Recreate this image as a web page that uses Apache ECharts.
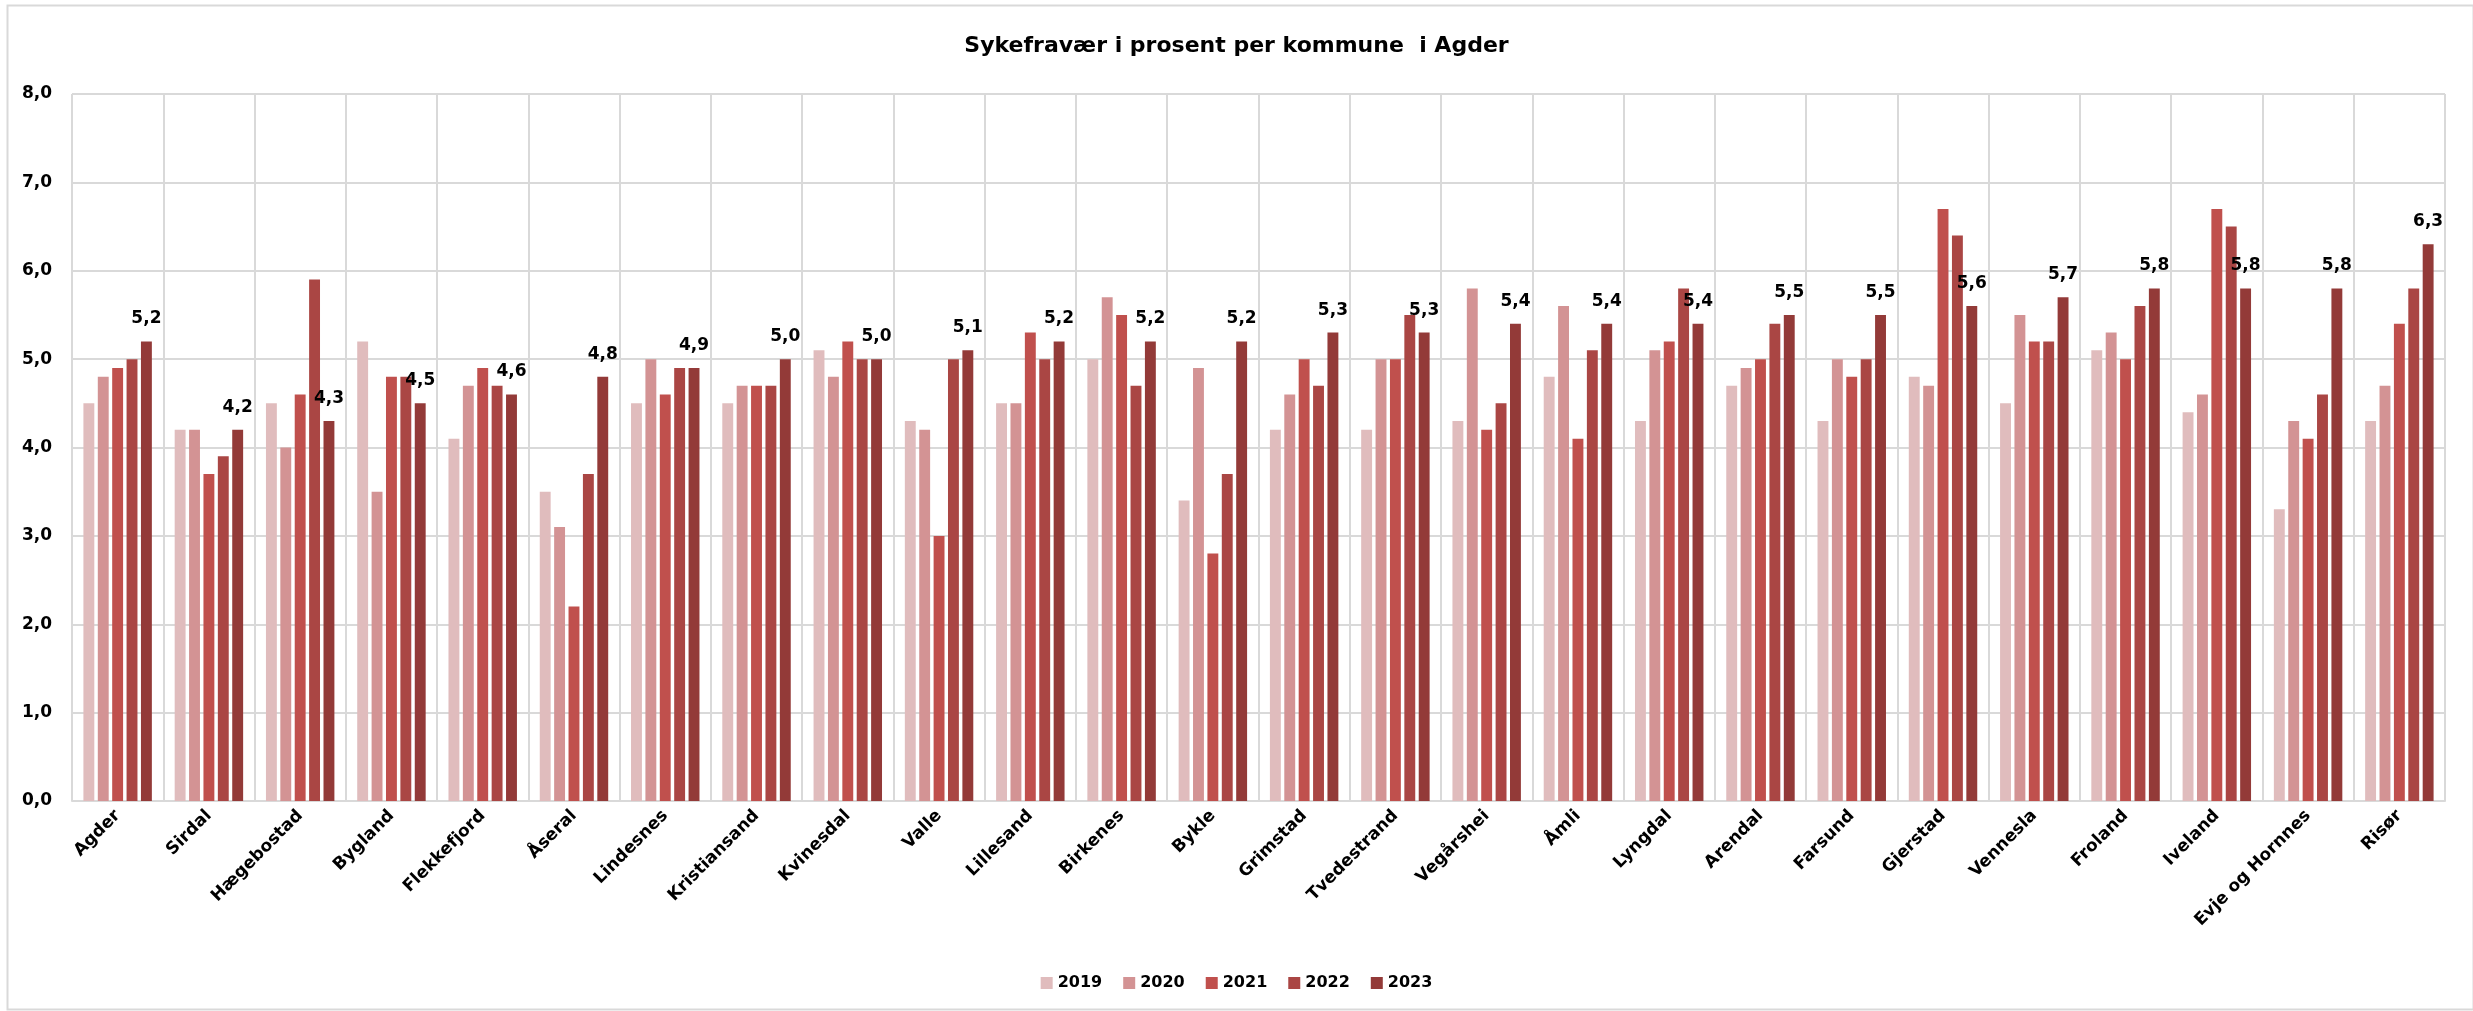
<!DOCTYPE html>
<html>
<head>
<meta charset="utf-8">
<script src="https://cdn.jsdelivr.net/npm/echarts@6/dist/echarts.min.js"></script>
<style>
html,body{margin:0;padding:0;background:#fff;}
#c{width:2473px;height:1011px;}
</style>
</head>
<body>
<div id="c"></div>
<script>
const categories = ["Agder","Sirdal","Hægebostad","Bygland","Flekkefjord","Åseral","Lindesnes","Kristiansand","Kvinesdal","Valle","Lillesand","Birkenes","Bykle","Grimstad","Tvedestrand","Vegårshei","Åmli","Lyngdal","Arendal","Farsund","Gjerstad","Vennesla","Froland","Iveland","Evje og Hornnes","Risør"];
const years = ["2019","2020","2021","2022","2023"];
const v2019 = [4.5,4.2,4.5,5.2,4.1,3.5,4.5,4.5,5.1,4.3,4.5,5.0,3.4,4.2,4.2,4.3,4.8,4.3,4.7,4.3,4.8,4.5,5.1,4.4,3.3,4.3];
const v2020 = [4.8,4.2,4.0,3.5,4.7,3.1,5.0,4.7,4.8,4.2,4.5,5.7,4.9,4.6,5.0,5.8,5.6,5.1,4.9,5.0,4.7,5.5,5.3,4.6,4.3,4.7];
const v2021 = [4.9,3.7,4.6,4.8,4.9,2.2,4.6,4.7,5.2,3.0,5.3,5.5,2.8,5.0,5.0,4.2,4.1,5.2,5.0,4.8,6.7,5.2,5.0,6.7,4.1,5.4];
const v2022 = [5.0,3.9,5.9,4.8,4.7,3.7,4.9,4.7,5.0,5.0,5.0,4.7,3.7,4.7,5.5,4.5,5.1,5.8,5.4,5.0,6.4,5.2,5.6,6.5,4.6,5.8];
const v2023 = [5.2,4.2,4.3,4.5,4.6,4.8,4.9,5.0,5.0,5.1,5.2,5.2,5.2,5.3,5.3,5.4,5.4,5.4,5.5,5.5,5.6,5.7,5.8,5.8,5.8,6.3];
const yTicks = [0,1,2,3,4,5,6,7,8];
const colors = ["#e0bcbd","#d39394","#c0504d","#aa4644","#933a38"];

const seriesData = [v2019, v2020, v2021, v2022, v2023];
const fmt = v => v.toFixed(1).replace('.', ',');
const FONT = "DejaVu Sans";

const chart = echarts.init(document.getElementById('c'), null, {renderer:'canvas'});
chart.setOption({
  animation:false,
  backgroundColor:'#ffffff',
  graphic:[{
    type:'rect', left:5, top:3, silent:true, z:-10,
    shape:{width:2466, height:1004},
    style:{fill:'none', stroke:'#d9d9d9', lineWidth:2}
  }],
  title:{
    text:'Sykefravær i prosent per kommune  i Agder',
    left:'center', top:30,
    textStyle:{fontFamily:FONT, fontWeight:'bold', fontSize:22, color:'#000'}
  },
  legend:{
    data:years, top:970, left:'center',
    itemWidth:12, itemHeight:12, itemGap:21,
    icon:'rect',
    textStyle:{fontFamily:FONT, fontWeight:'bold', fontSize:16, color:'#000'}
  },
  grid:{left:72, right:28, top:94, bottom:210, containLabel:false},
  xAxis:{
    type:'category', data:categories,
    axisLine:{show:true, lineStyle:{color:'#d9d9d9', width:2}},
    axisTick:{show:false},
    splitLine:{show:true, lineStyle:{color:'#d9d9d9', width:2}},
    axisLabel:{rotate:45, interval:0, margin:12, fontFamily:FONT, fontWeight:'bold', fontSize:17, color:'#000'}
  },
  yAxis:{
    type:'value', min:0, max:8, interval:1,
    axisLine:{show:false}, axisTick:{show:false},
    splitLine:{show:true, lineStyle:{color:'#d9d9d9', width:2}},
    axisLabel:{formatter:v => fmt(v), margin:20, fontFamily:FONT, fontWeight:'bold', fontSize:17, color:'#000'}
  },
  series: years.map((y,i)=>({
    name:y, type:'bar', data:seriesData[i],
    barGap:'32%', barCategoryGap:'25%',
    itemStyle:{color:colors[i]},
    label: i===4 ? {show:true, position:'top', distance:14, formatter:p=>fmt(p.value),
      fontFamily:FONT, fontWeight:'bold', fontSize:17, color:'#000'} : {show:false}
  }))
});
</script>
</body>
</html>
